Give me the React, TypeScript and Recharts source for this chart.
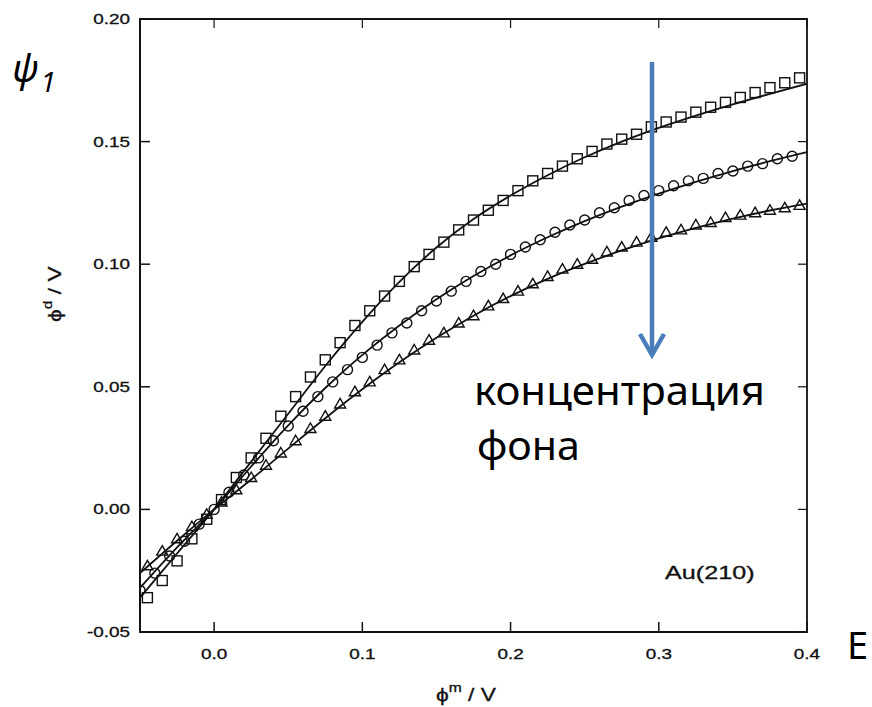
import React from 'react';
import {
  ComposedChart,
  Line,
  Scatter,
  XAxis,
  YAxis,
  ReferenceArea,
} from 'recharts';

// fitted curves (solid lines)
const fitX = [-0.05, -0.025, 0, 0.025, 0.05, 0.075, 0.1, 0.125, 0.15, 0.175, 0.2, 0.225, 0.25, 0.275, 0.3, 0.325, 0.35, 0.375, 0.4];
const fitSquare = [-0.036, -0.018, 0.0, 0.0195, 0.039, 0.0585, 0.0765, 0.0928, 0.1068, 0.1184, 0.128, 0.1363, 0.1436, 0.15, 0.1556, 0.1606, 0.1652, 0.1695, 0.1736];
const fitCircle = [-0.032, -0.0155, 0.0, 0.0175, 0.0343, 0.0495, 0.063, 0.075, 0.0857, 0.0952, 0.1036, 0.111, 0.1176, 0.1235, 0.1288, 0.1336, 0.138, 0.142, 0.1457];
const fitTriangle = [-0.026, -0.0128, 0.0, 0.0122, 0.0248, 0.0372, 0.049, 0.06, 0.07, 0.079, 0.087, 0.094, 0.1001, 0.1056, 0.1105, 0.1148, 0.1186, 0.1219, 0.1247];

// measured points
const squareX = [-0.045, -0.035, -0.025, -0.015, -0.005, 0.005, 0.015, 0.025, 0.035, 0.045, 0.055, 0.065, 0.075, 0.085, 0.095, 0.105, 0.115, 0.125, 0.135, 0.145, 0.155, 0.165, 0.175, 0.185, 0.195, 0.205, 0.215, 0.225, 0.235, 0.245, 0.255, 0.265, 0.275, 0.285, 0.295, 0.305, 0.315, 0.325, 0.335, 0.345, 0.355, 0.365, 0.375, 0.385, 0.395];
const squareY = [-0.036, -0.029, -0.021, -0.012, -0.004, 0.004, 0.013, 0.021, 0.029, 0.038, 0.046, 0.054, 0.061, 0.068, 0.075, 0.081, 0.087, 0.093, 0.099, 0.104, 0.109, 0.114, 0.118, 0.122, 0.126, 0.13, 0.134, 0.137, 0.14, 0.143, 0.146, 0.149, 0.151, 0.153, 0.156, 0.158, 0.16, 0.162, 0.164, 0.166, 0.168, 0.17, 0.172, 0.174, 0.176];

const circleX = [-0.05, -0.04, -0.03, -0.02, -0.01, 0.0, 0.01, 0.02, 0.03, 0.04, 0.05, 0.06, 0.07, 0.08, 0.09, 0.1, 0.11, 0.12, 0.13, 0.14, 0.15, 0.16, 0.17, 0.18, 0.19, 0.2, 0.21, 0.22, 0.23, 0.24, 0.25, 0.26, 0.27, 0.28, 0.29, 0.3, 0.31, 0.32, 0.33, 0.34, 0.35, 0.36, 0.37, 0.38, 0.39];
const circleY = [-0.033, -0.026, -0.019, -0.013, -0.006, 0.0, 0.007, 0.014, 0.021, 0.028, 0.034, 0.04, 0.046, 0.052, 0.057, 0.062, 0.067, 0.072, 0.076, 0.081, 0.085, 0.089, 0.093, 0.097, 0.1, 0.104, 0.107, 0.11, 0.113, 0.116, 0.118, 0.121, 0.123, 0.126, 0.128, 0.13, 0.132, 0.134, 0.135, 0.137, 0.138, 0.14, 0.141, 0.143, 0.144];

const triangleX = squareX;
const triangleY = [-0.023, -0.017, -0.012, -0.007, -0.002, 0.003, 0.008, 0.013, 0.018, 0.023, 0.028, 0.033, 0.038, 0.043, 0.048, 0.052, 0.057, 0.061, 0.065, 0.069, 0.072, 0.076, 0.079, 0.083, 0.086, 0.089, 0.092, 0.095, 0.098, 0.1, 0.102, 0.105, 0.107, 0.109, 0.111, 0.113, 0.114, 0.116, 0.117, 0.119, 0.12, 0.121, 0.122, 0.123, 0.124];

const xTicks = [0, 0.1, 0.2, 0.3, 0.4];
const yTicks = [-0.05, 0, 0.05, 0.1, 0.15, 0.2];

const zip = (xs: number[], ys: number[]) => xs.map((x, i) => ({ x, y: ys[i] }));

const W = 872;
const H = 707;
const PLOT_LEFT = 140;
const PLOT_RIGHT = 807;
const PLOT_TOP = 19;
const PLOT_BOTTOM = 632;
const INK = '#111';
const SCALE_X = 1.35;
const AXIS_FONT = 'Liberation Sans, Arial, sans-serif';

const YTick = (props: any) => {
  const { y, payload } = props;
  return (
    <g>
      <line x1={PLOT_LEFT} x2={PLOT_LEFT + 10} y1={y} y2={y} stroke={INK} strokeWidth={1.5} />
      <line x1={PLOT_RIGHT - 9} x2={PLOT_RIGHT} y1={y} y2={y} stroke={INK} strokeWidth={1.2} />
      <text
        transform={`translate(130, ${y + 5}) scale(${SCALE_X}, 1)`}
        textAnchor="end"
        fontSize={14}
        fontFamily={AXIS_FONT}
        fill={INK}
        stroke={INK}
        strokeWidth={0.3}
      >
        {Number(payload.value).toFixed(2)}
      </text>
    </g>
  );
};

const XTick = (props: any) => {
  const { x, payload } = props;
  return (
    <g>
      <line x1={x} x2={x} y1={PLOT_BOTTOM} y2={PLOT_BOTTOM - 10} stroke={INK} strokeWidth={1.5} />
      <line x1={x} x2={x} y1={PLOT_TOP} y2={PLOT_TOP + 9} stroke={INK} strokeWidth={1.2} />
      <text
        transform={`translate(${x}, 659) scale(${SCALE_X}, 1)`}
        textAnchor="middle"
        fontSize={14}
        fontFamily={AXIS_FONT}
        fill={INK}
        stroke={INK}
        strokeWidth={0.3}
      >
        {Number(payload.value).toFixed(1)}
      </text>
    </g>
  );
};

const SquareMark = (p: any) => (
  <rect x={p.cx - 5} y={p.cy - 5} width={10} height={10} fill="none" stroke={INK} strokeWidth={1.4} />
);
const CircleMark = (p: any) => (
  <circle cx={p.cx} cy={p.cy} r={5} fill="none" stroke={INK} strokeWidth={1.4} />
);
const TriangleMark = (p: any) => (
  <polygon
    points={`${p.cx},${p.cy - 5.5} ${p.cx + 5.5},${p.cy + 4} ${p.cx - 5.5},${p.cy + 4}`}
    fill="none"
    stroke={INK}
    strokeWidth={1.4}
  />
);

const Overlay = () => (
  <svg
    width={W}
    height={H}
    style={{ position: 'absolute', left: 0, top: 0, pointerEvents: 'none' }}
  >
    <text x={12} y={82} fontSize={38} fontStyle="italic" fontFamily="Noto Sans, sans-serif" fill="#000">
      ψ<tspan dx={2} dy={10} fontSize={28}>1</tspan>
    </text>
    <text x={847} y={659} fontSize={38} fontFamily="Noto Sans, sans-serif" fill="#000">
      E
    </text>
    <line x1={652} x2={652} y1={62} y2={354} stroke="#4a7ebb" strokeWidth={4.5} />
    <polyline
      points="640,334 652,355 664,334"
      fill="none"
      stroke="#4a7ebb"
      strokeWidth={4.5}
      strokeLinejoin="miter"
    />
    <text x={474} y={405} fontSize={40} fontFamily="Noto Sans, sans-serif" fill="#000" textLength={291} lengthAdjust="spacingAndGlyphs">
      концентрация
    </text>
    <text x={477} y={460} fontSize={40} fontFamily="Noto Sans, sans-serif" fill="#000" textLength={103} lengthAdjust="spacingAndGlyphs">
      фона
    </text>
    <text
      transform={`translate(665, 579) scale(1.4, 1)`}
      fontSize={18}
      fontFamily={AXIS_FONT}
      fill={INK}
      stroke={INK}
      strokeWidth={0.3}
    >
      Au(210)
    </text>
    <text
      transform={`translate(436, 701) scale(1.2, 1)`}
      fontSize={19}
      fontFamily={AXIS_FONT}
      fill={INK}
      stroke={INK}
      strokeWidth={0.3}
    >
      ϕ<tspan dy={-9} fontSize={13}>m</tspan>
      <tspan dy={9}> / V</tspan>
    </text>
    <text
      transform={`translate(61, 322) rotate(-90) scale(1.2, 1)`}
      fontSize={19}
      fontFamily={AXIS_FONT}
      fill={INK}
      stroke={INK}
      strokeWidth={0.3}
    >
      ϕ<tspan dy={-9} fontSize={13}>d</tspan>
      <tspan dy={9}> / V</tspan>
    </text>
  </svg>
);

export default function App() {
  return (
    <div style={{ position: 'absolute', left: 0, top: 0, width: W, height: H, background: '#fff' }}>
      <ComposedChart
        width={W}
        height={H}
        margin={{ top: PLOT_TOP, right: W - PLOT_RIGHT, bottom: H - PLOT_BOTTOM - 30, left: PLOT_LEFT - 60 }}
      >
        <XAxis
          type="number"
          dataKey="x"
          domain={[-0.05, 0.4]}
          ticks={xTicks}
          allowDataOverflow
          height={30}
          tickLine={false}
          axisLine={{ stroke: INK, strokeWidth: 1.8 }}
          tick={<XTick />}
        />
        <YAxis
          type="number"
          dataKey="y"
          domain={[-0.05, 0.2]}
          ticks={yTicks}
          allowDataOverflow
          width={60}
          tickLine={false}
          axisLine={{ stroke: INK, strokeWidth: 1.8 }}
          tick={<YTick />}
        />
        <ReferenceArea
          x1={-0.05}
          x2={0.4}
          y1={-0.05}
          y2={0.2}
          fill="none"
          fillOpacity={0}
          stroke={INK}
          strokeWidth={1.8}
        />
        <Line data={zip(fitX, fitSquare)} dataKey="y" type="monotone" stroke={INK} strokeWidth={1.8} dot={false} isAnimationActive={false} />
        <Line data={zip(fitX, fitCircle)} dataKey="y" type="monotone" stroke={INK} strokeWidth={1.8} dot={false} isAnimationActive={false} />
        <Line data={zip(fitX, fitTriangle)} dataKey="y" type="monotone" stroke={INK} strokeWidth={1.8} dot={false} isAnimationActive={false} />
        <Scatter data={zip(squareX, squareY)} dataKey="y" shape={<SquareMark />} isAnimationActive={false} />
        <Scatter data={zip(circleX, circleY)} dataKey="y" shape={<CircleMark />} isAnimationActive={false} />
        <Scatter data={zip(triangleX, triangleY)} dataKey="y" shape={<TriangleMark />} isAnimationActive={false} />
      </ComposedChart>
      <Overlay />
    </div>
  );
}
